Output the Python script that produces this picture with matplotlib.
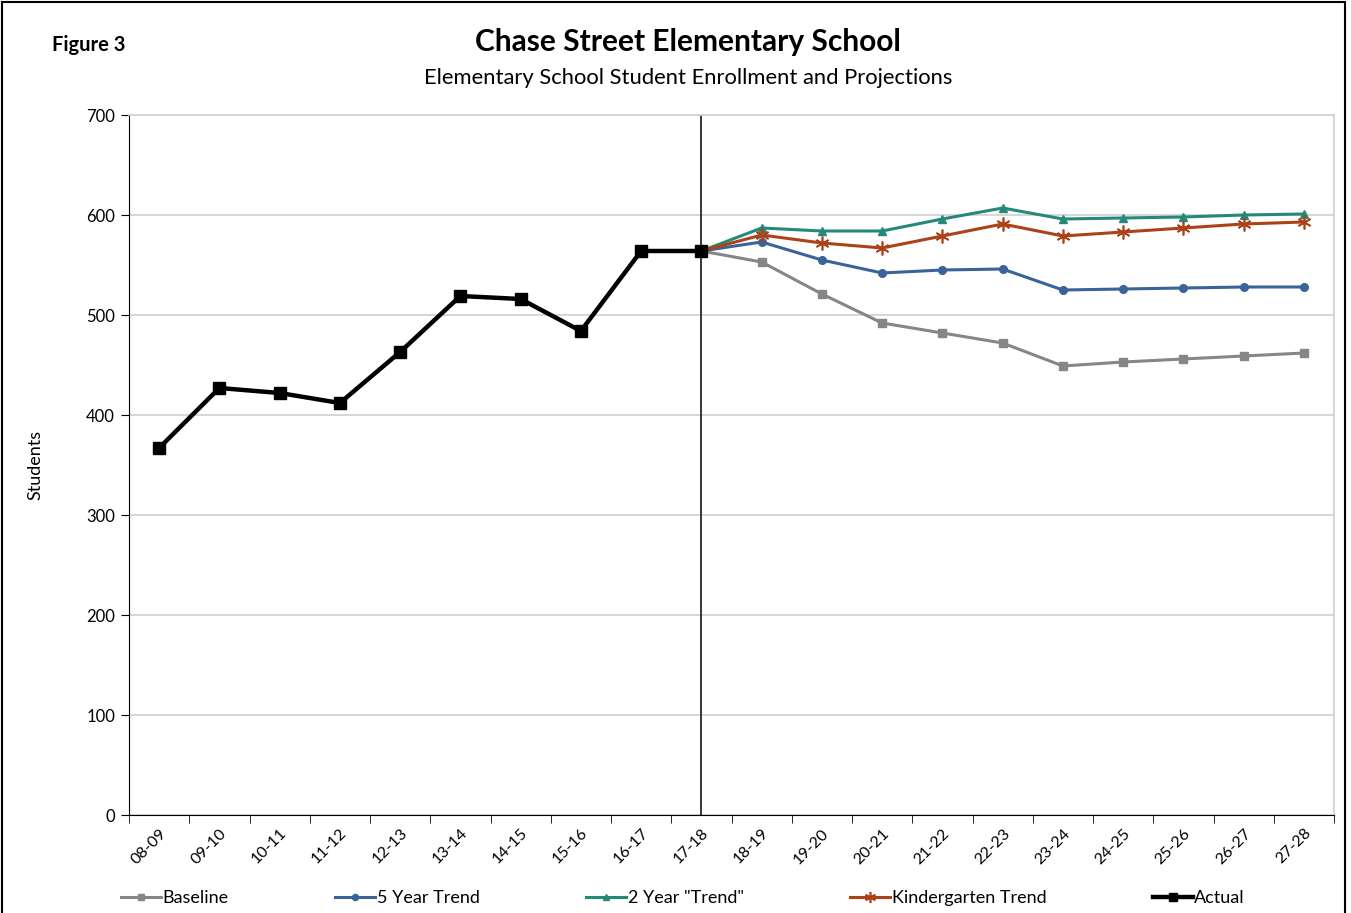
import matplotlib
matplotlib.use("Agg")
import matplotlib.pyplot as plt
from matplotlib.patches import Rectangle

plt.rcParams["font.family"] = ["Lato", "DejaVu Sans"]

years = ["08-09", "09-10", "10-11", "11-12", "12-13", "13-14", "14-15", "15-16",
         "16-17", "17-18", "18-19", "19-20", "20-21", "21-22", "22-23", "23-24",
         "24-25", "25-26", "26-27", "27-28"]

actual = [367, 427, 422, 412, 463, 519, 516, 484, 564, 564]

# projections start from the 17-18 actual
proj_years = years[9:]
baseline = [564, 553, 521, 492, 482, 472, 449, 453, 456, 459, 462]
trend5 = [564, 573, 555, 542, 545, 546, 525, 526, 527, 528, 528]
trend2 = [564, 587, 584, 584, 596, 607, 596, 597, 598, 600, 601]
kinder = [564, 580, 572, 567, 579, 591, 579, 583, 587, 591, 593]

GRAY = "#868686"
BLUE = "#3b6398"
TEAL = "#25897a"
ORANGE = "#ad4118"
GRID = "#d0d0d0"

fig = plt.figure(figsize=(13.51, 9.13), dpi=100)
ax = fig.add_axes([129 / 1351, 1 - 815 / 913, (1334 - 129) / 1351, 700 / 913])

xa = list(range(len(actual)))
xp = list(range(9, 9 + len(proj_years)))

ax.plot(xp, baseline, color=GRAY, lw=2.2, marker="s", ms=5.5, label="Baseline")
ax.plot(xp, trend5, color=BLUE, lw=2.2, marker="o", ms=5.5, label="5 Year Trend")
ax.plot(xp, trend2, color=TEAL, lw=2.2, marker="^", ms=6, label='2 Year "Trend"')
ax.plot(xp, kinder, color=ORANGE, lw=2.2, marker=(6, 2, 0), ms=10, mew=1.2,
        label="Kindergarten Trend")
ax.plot(xa, actual, color="black", lw=3.2, marker="s", ms=8, label="Actual",
        zorder=5)

ax.axvline(9, color="black", lw=1.1, zorder=1)

ax.set_xlim(-0.5, len(years) - 0.5)
ax.set_ylim(0, 700)
ax.set_yticks(range(0, 701, 100))
ax.yaxis.grid(True, color=GRID, lw=1.2)
ax.set_axisbelow(True)

ax.set_xticks(range(len(years)))
ax.set_xticklabels(years, rotation=45, ha="right", rotation_mode="anchor",
                   fontsize=11.5)
ax.tick_params(axis="x", length=0, pad=8)
ax.set_xticks([i - 0.5 for i in range(len(years) + 1)], minor=True)
ax.tick_params(axis="x", which="minor", length=6, color="black")
ax.tick_params(axis="y", length=6, labelsize=12, pad=4)

for s in ("top", "right"):
    ax.spines[s].set_color(GRID)
    ax.spines[s].set_linewidth(1.2)
ax.spines["left"].set_color("black")
ax.spines["bottom"].set_color("black")

ax.set_ylabel("Students", fontsize=13)
ax.yaxis.set_label_coords(-0.071, 0.5)

fig.text(52 / 1351, 1 - 45 / 913, "Figure 3", fontsize=14.5, fontweight="bold",
         va="center", ha="left")
fig.text(688 / 1351, 1 - 42 / 913, "Chase Street Elementary School", fontsize=21.5,
         fontweight="bold", va="center", ha="center")
fig.text(688 / 1351, 1 - 78 / 913, "Elementary School Student Enrollment and Projections",
         fontsize=15.8, va="center", ha="center")

fig.legend(loc="center left", bbox_to_anchor=(121 / 1351, 1 - 898 / 913), ncol=5,
           frameon=False, fontsize=13, handlelength=2.2, handletextpad=0.1,
           columnspacing=5.9, borderaxespad=0, borderpad=0, markerscale=0.8)

fig.patches.append(Rectangle((2 / 1351, -0.01), 1343 / 1351, 1.0 - 2 / 913 + 0.01,
                             transform=fig.transFigure, fill=False,
                             edgecolor="black", lw=1.5))

fig.savefig("out.png", dpi=100)
